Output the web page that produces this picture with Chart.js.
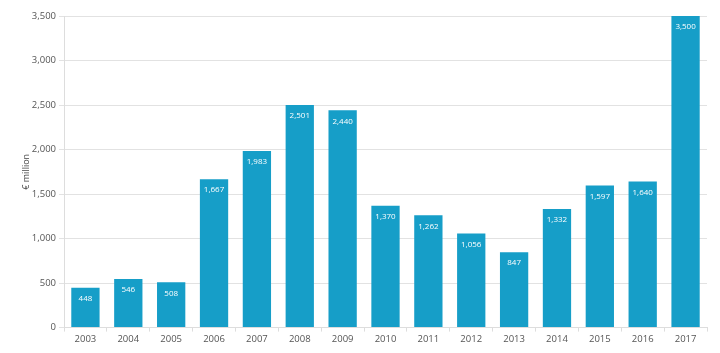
<!DOCTYPE html>
<html><head><meta charset="utf-8">
<script src="https://cdn.jsdelivr.net/npm/chart.js@4.4.0/dist/chart.umd.min.js"></script>
<style>html,body{margin:0;padding:0;background:#fff}#wrap{width:720px;height:353px}</style>
</head><body><div id="wrap"><canvas id="c" width="720" height="353"></canvas></div>
<script>
const years = ['2003','2004','2005','2006','2007','2008','2009','2010','2011','2012','2013','2014','2015','2016','2017'];
const values = [448,546,508,1667,1983,2501,2440,1370,1262,1056,847,1332,1597,1640,3500];
const yTicks = [0,500,1000,1500,2000,2500,3000,3500];

const labelPlugin = {
  id:'lbl',
  afterDatasetsDraw(chart){
    const ctx = chart.ctx;
    const meta = chart.getDatasetMeta(0);
    ctx.save();
    ctx.fillStyle = '#fff';
    ctx.font = '8px "Open Sans", sans-serif';
    ctx.textAlign = 'center';
    ctx.textBaseline = 'middle';
    meta.data.forEach((b,i)=>{
      ctx.fillText(values[i].toLocaleString('en-US'), b.x, b.y + 11);
    });
    ctx.restore();
  }
};

new Chart(document.getElementById('c'), {
  type:'bar',
  data:{labels:years, datasets:[{data:values, backgroundColor:'#169ec8', categoryPercentage:0.66, barPercentage:1}]},
  options:{
    responsive:false, animation:false,
    layout:{padding:{left:21,right:13,top:16,bottom:6}},
    plugins:{legend:{display:false}, tooltip:{enabled:false}},
    scales:{
      x:{
        grid:{display:true, drawOnChartArea:false, offset:true, tickLength:4, color:'#ddd'},
        border:{color:'#ddd'},
        ticks:{color:'#555', font:{size:9.5, family:'"Open Sans", sans-serif'}, padding:2, maxRotation:0}
      },
      y:{
        min:0, max:3500,
        afterFit(s){ s.width = 43; },
        afterBuildTicks(s){ s.ticks = yTicks.map(v=>({value:v})); },
        grid:{color:'#e2e2e2', tickLength:5},
        border:{color:'#ddd'},
        ticks:{color:'#555', font:{size:9.5, family:'"Open Sans", sans-serif'}, padding:3, callback:v=>v.toLocaleString('en-US')},
        title:{display:true, text:'€ million', color:'#444', font:{size:9, family:'"Open Sans", sans-serif'}, padding:{top:0,bottom:0}}
      }
    }
  },
  plugins:[labelPlugin]
});
</script></body></html>
